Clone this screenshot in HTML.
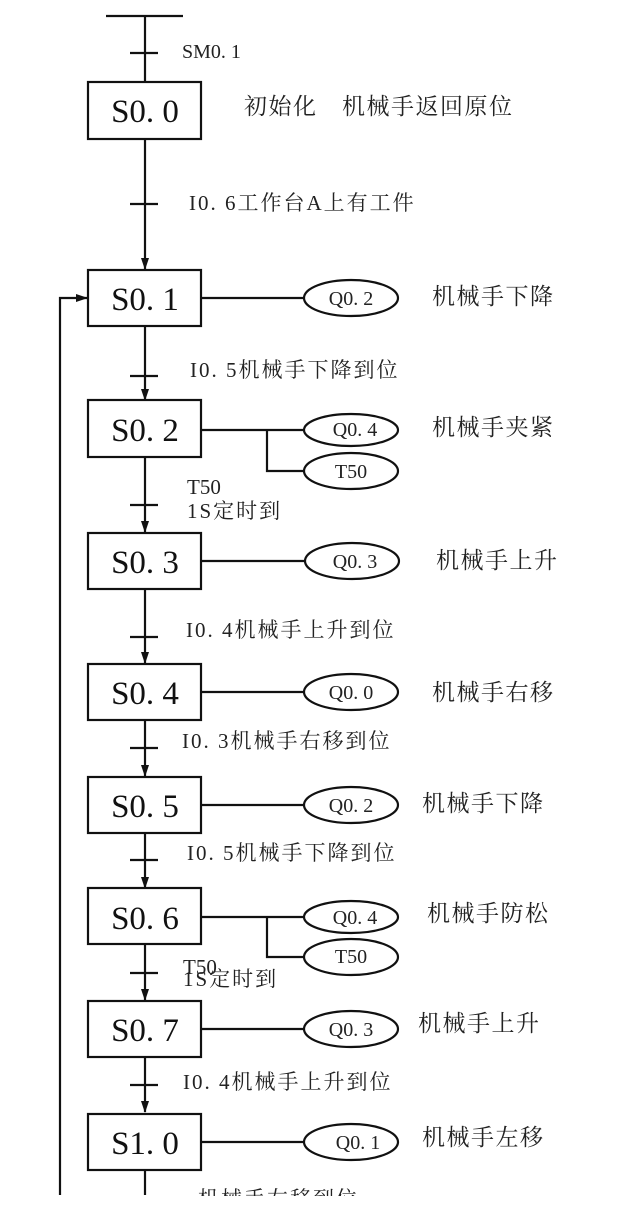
<!DOCTYPE html>
<html><head><meta charset="utf-8"><style>
html,body{margin:0;padding:0;background:#fff;}
svg{display:block}
.b{font-family:"Liberation Serif","Noto Serif CJK SC",serif;font-size:33px;fill:#111;}
.e{font-family:"Liberation Serif",serif;font-size:20px;fill:#222;}
.c{font-family:"Liberation Serif","Noto Serif CJK SC","Noto Sans CJK SC",serif;font-size:23px;fill:#222;letter-spacing:1.5px;}
.t{font-family:"Liberation Serif","Noto Serif CJK SC","Noto Sans CJK SC",serif;font-size:21px;fill:#222;letter-spacing:2px;}
</style></head><body>
<svg width="640" height="1231" viewBox="0 0 640 1231" xmlns="http://www.w3.org/2000/svg">
<defs><marker id="a" markerWidth="12" markerHeight="10" refX="11" refY="5" orient="auto" markerUnits="userSpaceOnUse"><path d="M0,1 L12,5 L0,9 Z" fill="#111"/></marker></defs>
<g stroke="#111" stroke-width="2.2" fill="none">
<line x1="106" y1="16" x2="183" y2="16"/>
<line x1="145" y1="16" x2="145" y2="82"/>
<line x1="130" y1="53" x2="158" y2="53"/>
<line x1="145" y1="139" x2="145" y2="269" marker-end="url(#a)"/>
<line x1="130" y1="204" x2="158" y2="204"/>
<polyline points="60,1195 60,298 87,298" marker-end="url(#a)"/>
<line x1="145" y1="326" x2="145" y2="400" marker-end="url(#a)"/>
<line x1="130" y1="376" x2="158" y2="376"/>
<line x1="145" y1="457" x2="145" y2="532" marker-end="url(#a)"/>
<line x1="130" y1="505" x2="158" y2="505"/>
<line x1="145" y1="589" x2="145" y2="663" marker-end="url(#a)"/>
<line x1="130" y1="637" x2="158" y2="637"/>
<line x1="145" y1="720" x2="145" y2="776" marker-end="url(#a)"/>
<line x1="130" y1="748" x2="158" y2="748"/>
<line x1="145" y1="833" x2="145" y2="888" marker-end="url(#a)"/>
<line x1="130" y1="860" x2="158" y2="860"/>
<line x1="145" y1="944" x2="145" y2="1000" marker-end="url(#a)"/>
<line x1="130" y1="973" x2="158" y2="973"/>
<line x1="145" y1="1057" x2="145" y2="1112" marker-end="url(#a)"/>
<line x1="130" y1="1085" x2="158" y2="1085"/>
<line x1="145" y1="1170" x2="145" y2="1195"/>
<rect x="88" y="82" width="113" height="57"/>
<rect x="88" y="270" width="113" height="56"/>
<rect x="88" y="400" width="113" height="57"/>
<rect x="88" y="533" width="113" height="56"/>
<rect x="88" y="664" width="113" height="56"/>
<rect x="88" y="777" width="113" height="56"/>
<rect x="88" y="888" width="113" height="56"/>
<rect x="88" y="1001" width="113" height="56"/>
<rect x="88" y="1114" width="113" height="56"/>
<line x1="201" y1="298" x2="304" y2="298"/><ellipse cx="351" cy="298" rx="47" ry="18"/>
<line x1="201" y1="430" x2="304" y2="430"/><ellipse cx="351" cy="430" rx="47" ry="16"/>
<polyline points="267,430 267,471 304,471"/><ellipse cx="351" cy="471" rx="47" ry="18"/>
<line x1="201" y1="561" x2="305" y2="561"/><ellipse cx="352" cy="561" rx="47" ry="18"/>
<line x1="201" y1="692" x2="304" y2="692"/><ellipse cx="351" cy="692" rx="47" ry="18"/>
<line x1="201" y1="805" x2="304" y2="805"/><ellipse cx="351" cy="805" rx="47" ry="18"/>
<line x1="201" y1="917" x2="304" y2="917"/><ellipse cx="351" cy="917" rx="47" ry="16"/>
<polyline points="267,917 267,957 304,957"/><ellipse cx="351" cy="957" rx="47" ry="18"/>
<line x1="201" y1="1029" x2="304" y2="1029"/><ellipse cx="351" cy="1029" rx="47" ry="18"/>
<line x1="201" y1="1142" x2="304" y2="1142"/><ellipse cx="351" cy="1142" rx="47" ry="18"/>
</g>
<g class="b" text-anchor="middle">
<text x="145" y="122">S0. 0</text>
<text x="145" y="310">S0. 1</text>
<text x="145" y="441">S0. 2</text>
<text x="145" y="573">S0. 3</text>
<text x="145" y="704">S0. 4</text>
<text x="145" y="817">S0. 5</text>
<text x="145" y="929">S0. 6</text>
<text x="145" y="1041">S0. 7</text>
<text x="145" y="1154">S1. 0</text>
</g>
<g class="e" text-anchor="middle">
<text x="351" y="305">Q0. 2</text>
<text x="355" y="436">Q0. 4</text>
<text x="351" y="478">T50</text>
<text x="355" y="568">Q0. 3</text>
<text x="351" y="699">Q0. 0</text>
<text x="351" y="812">Q0. 2</text>
<text x="355" y="924">Q0. 4</text>
<text x="351" y="963">T50</text>
<text x="351" y="1036">Q0. 3</text>
<text x="358" y="1149">Q0. 1</text>
</g>
<g class="c">
<text x="182" y="58" font-size="20" letter-spacing="0">SM0. 1</text>
<text x="244" y="114">初始化　机械手返回原位</text>
<text x="432" y="304">机械手下降</text>
<text x="432" y="435">机械手夹紧</text>
<text x="436" y="568">机械手上升</text>
<text x="432" y="700">机械手右移</text>
<text x="422" y="811">机械手下降</text>
<text x="427" y="921">机械手防松</text>
<text x="418" y="1031">机械手上升</text>
<text x="422" y="1145">机械手左移</text>
</g>
<g class="t">
<text x="189" y="210">I0. 6工作台A上有工件</text>
<text x="190" y="377">I0. 5机械手下降到位</text>
<text x="187" y="494" letter-spacing="0">T50</text>
<text x="187" y="518">1S定时到</text>
<text x="186" y="637">I0. 4机械手上升到位</text>
<text x="182" y="748">I0. 3机械手右移到位</text>
<text x="187" y="860">I0. 5机械手下降到位</text>
<text x="183" y="974" letter-spacing="0">T50</text>
<text x="183" y="986">1S定时到</text>
<text x="183" y="1089">I0. 4机械手上升到位</text>
</g>
<svg x="0" y="0" width="640" height="1196"><text class="t" x="198" y="1206">机械手左移到位</text></svg>
</svg>
</body></html>
